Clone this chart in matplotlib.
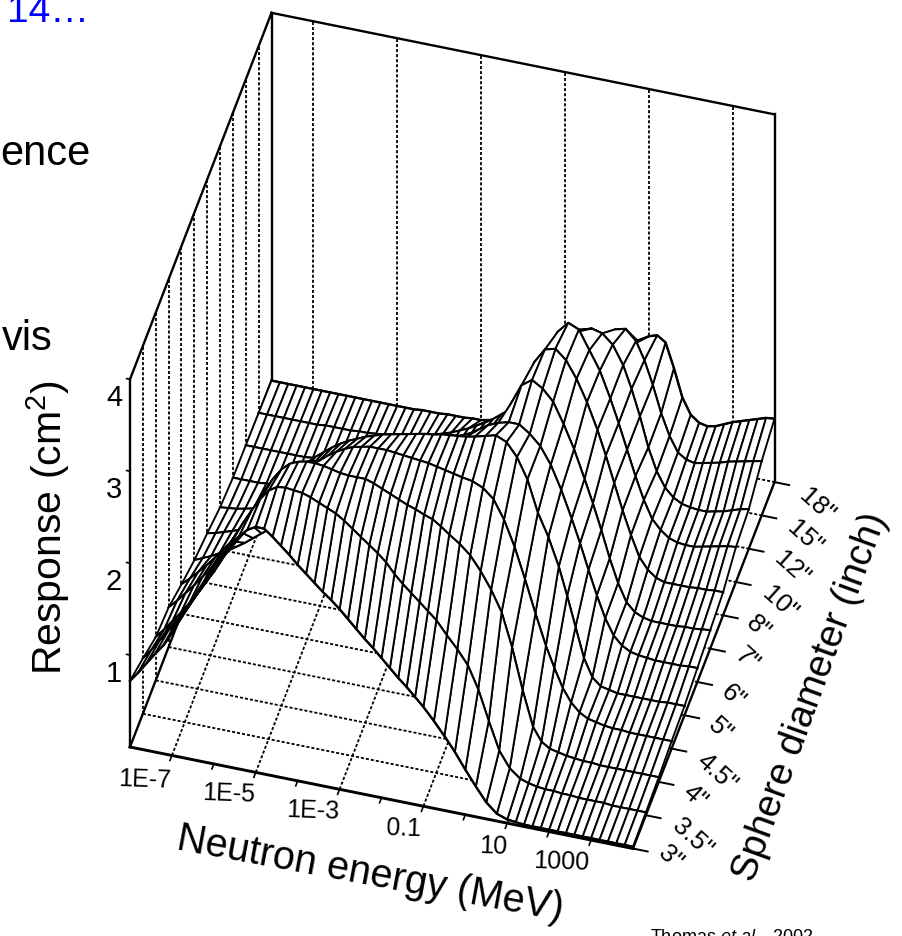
import numpy as np
import matplotlib
matplotlib.use("Agg")
import matplotlib.pyplot as plt
from mpl_toolkits.mplot3d import proj3d

plt.rcParams['font.family'] = ['Liberation Sans', 'DejaVu Sans']
plt.rcParams['mathtext.fontset'] = 'custom'
plt.rcParams['mathtext.rm'] = 'Liberation Sans'
plt.rcParams['mathtext.it'] = 'Liberation Sans:italic'
plt.rcParams['mathtext.default'] = 'regular'

# log10 of neutron energy (MeV)
log_e = [-8.0, -7.8, -7.6, -7.4, -7.2, -7.0, -6.8, -6.6, -6.4, -6.2, -6.0, -5.8,
         -5.6, -5.4, -5.2, -5.0, -4.8, -4.6, -4.4, -4.2, -4.0, -3.8, -3.6, -3.4,
         -3.2, -3.0, -2.8, -2.6, -2.4, -2.2, -2.0, -1.8, -1.6, -1.4, -1.2, -1.0,
         -0.75, -0.5, -0.25, 0.0, 0.25, 0.5, 0.75, 1.0, 1.2, 1.4, 1.6, 1.8, 2.0,
         2.2, 2.4, 2.6, 2.8, 3.0, 3.2, 3.4, 3.6, 3.8, 4.0]

sphere_labels = ['3"', '3.5"', '4"', '4.5"', '5"', '6"', '7"', '8"', '10"', '12"', '15"', '18"']

r_3 = [.72, .83, .95, 1.07, 1.18, 1.33, 1.50, 1.66, 1.83, 1.99, 2.14, 2.29, 2.43, 2.53, 2.62, 2.67, 2.67, 2.60,
       2.52, 2.44, 2.35, 2.27, 2.19, 2.11, 2.04, 1.96, 1.87, 1.78, 1.69, 1.61, 1.52, 1.43, 1.34, 1.26, 1.17, 1.08,
       .95, .81, .66, .49, .33, .18, .08, .04, .03, .02, .02, .02, .02,
       .02, .02, .02, .02, .02, .02, .02, .02, .02, .02]
r_3_5 = [.60, .71, .83, .95, 1.07, 1.20, 1.35, 1.50, 1.66, 1.82, 1.98, 2.14, 2.30, 2.45, 2.59, 2.70, 2.76, 2.77,
         2.76, 2.75, 2.72, 2.68, 2.64, 2.60, 2.54, 2.47, 2.40, 2.33, 2.26, 2.18, 2.07, 1.98, 1.90, 1.82, 1.74, 1.66,
         1.52, 1.39, 1.24, 1.00, .68, .38, .21, .12, .09, .07, .06, .06, .05,
         .05, .04, .04, .04, .04, .03, .03, .03, .03, .03]
r_4 = [.47, .57, .68, .79, .91, 1.04, 1.18, 1.32, 1.48, 1.64, 1.80, 1.97, 2.14, 2.30, 2.45, 2.57, 2.65, 2.69,
       2.71, 2.71, 2.70, 2.68, 2.66, 2.65, 2.65, 2.65, 2.62, 2.58, 2.54, 2.50, 2.46, 2.43, 2.39, 2.36, 2.30, 2.23,
       2.15, 2.05, 1.90, 1.72, 1.50, 1.14, .70, .32, .18, .12, .10, .08, .07,
       .06, .06, .05, .05, .05, .05, .05, .05, .05, .05]
r_4_5 = [.43, .52, .62, .72, .83, .94, 1.05, 1.17, 1.29, 1.41, 1.53, 1.65, 1.77, 1.89, 2.00, 2.10, 2.19, 2.28,
         2.36, 2.43, 2.49, 2.54, 2.58, 2.60, 2.62, 2.62, 2.62, 2.61, 2.60, 2.59, 2.58, 2.57, 2.55, 2.53, 2.51, 2.49,
         2.47, 2.42, 2.32, 2.12, 1.85, 1.52, 1.17, .84, .62, .42, .28, .19, .14,
         .12, .10, .09, .09, .08, .08, .08, .08, .08, .08]
r_5 = [.32, .40, .49, .58, .68, .79, .90, 1.02, 1.14, 1.26, 1.38, 1.50, 1.61, 1.72, 1.82, 1.92, 2.00, 2.07,
       2.14, 2.20, 2.25, 2.29, 2.33, 2.36, 2.39, 2.41, 2.43, 2.45, 2.47, 2.49, 2.50, 2.52, 2.53, 2.54, 2.55, 2.57,
       2.60, 2.63, 2.58, 2.44, 2.22, 1.88, 1.64, 1.34, 1.04, .72, .40, .21, .13,
       .11, .09, .09, .09, .09, .09, .09, .10, .10, .10]
r_6 = [.22, .26, .30, .35, .40, .46, .52, .59, .66, .73, .81, .89, .97, 1.05, 1.13, 1.21, 1.28, 1.35,
       1.42, 1.49, 1.56, 1.62, 1.68, 1.74, 1.80, 1.86, 1.90, 1.94, 1.98, 2.02, 2.06, 2.11, 2.16, 2.21, 2.27, 2.33,
       2.38, 2.41, 2.41, 2.33, 2.22, 2.04, 1.79, 1.50, 1.25, .98, .72, .49, .32,
       .23, .18, .16, .15, .14, .14, .14, .14, .15, .15]
r_7 = [.15, .17, .20, .23, .26, .30, .34, .38, .43, .48, .53, .58, .63, .68, .74, .80, .86, .92,
       .98, 1.04, 1.10, 1.16, 1.22, 1.28, 1.34, 1.40, 1.46, 1.52, 1.57, 1.62, 1.67, 1.72, 1.78, 1.84, 1.91, 2.00,
       2.23, 2.45, 2.53, 2.46, 2.34, 2.12, 1.87, 1.57, 1.32, 1.05, .76, .51, .32,
       .23, .19, .17, .17, .17, .17, .18, .18, .19, .20]
r_8 = [.07, .08, .09, .11, .13, .15, .17, .20, .23, .26, .29, .32, .35, .38, .42, .46, .50, .55,
       .60, .65, .70, .76, .82, .88, .94, 1.00, 1.06, 1.12, 1.18, 1.25, 1.32, 1.39, 1.47, 1.56, 1.66, 1.80,
       2.05, 2.34, 2.50, 2.53, 2.43, 2.25, 2.02, 1.74, 1.48, 1.20, .92, .67, .45,
       .33, .26, .23, .23, .23, .23, .24, .24, .25, .25]
r_10 = [.03, .03, .03, .03, .04, .04, .04, .05, .05, .06, .07, .08, .09, .10, .12, .15, .18, .21,
        .25, .30, .35, .41, .47, .53, .59, .65, .71, .78, .85, .92, 1.00, 1.08, 1.16, 1.26, 1.40, 1.58,
        1.80, 2.08, 2.33, 2.45, 2.40, 2.20, 2.00, 1.72, 1.47, 1.20, .93, .69, .50,
        .40, .33, .30, .29, .29, .31, .33, .35, .37, .38]
r_12 = [.02, .02, .02, .02, .02, .02, .02, .02, .03, .03, .03, .04, .04, .05, .06, .08, .10, .12,
        .14, .17, .20, .24, .28, .33, .39, .45, .51, .58, .65, .72, .80, .88, .96, 1.04, 1.14, 1.25,
        1.42, 1.62, 1.83, 2.00, 2.05, 2.02, 1.92, 1.72, 1.48, 1.20, .88, .64, .48,
        .39, .34, .32, .31, .31, .33, .35, .38, .41, .43]
r_15 = [.01, .01, .01, .01, .01, .01, .01, .01, .02, .02, .02, .02, .03, .03, .04, .05, .06, .07,
        .09, .11, .13, .16, .19, .22, .26, .30, .35, .40, .46, .53, .60, .67, .74, .82, .90, 1.00,
        1.13, 1.25, 1.38, 1.50, 1.62, 1.70, 1.73, 1.62, 1.43, 1.18, .89, .66, .50,
        .44, .42, .44, .46, .48, .51, .53, .55, .57, .59]
r_18 = [.00, .00, .00, .00, .00, .00, .00, .00, .00, .00, .00, .00, .00, .00, .00, .00, .00, .00,
        .01, .01, .01, .02, .02, .02, .03, .03, .05, .07, .10, .15, .20, .25, .31, .37, .43, .50,
        .60, .70, .82, .94, 1.04, 1.13, 1.23, 1.31, 1.34, 1.28, 1.02, .72, .55,
        .48, .46, .48, .52, .56, .59, .62, .65, .68, .69]

z_ticks = [1, 2, 3, 4]
e_ticks = [-7, -5, -3, -1, 1, 3]
e_tick_labels = ['1E-7', '1E-5', '1E-3', '0.1', '10', '1000']
e_minor = [-6, -4, -2, 0, 2]

W, H = 903, 936
resp = np.array([r_3, r_3_5, r_4, r_4_5, r_5, r_6, r_7, r_8, r_10, r_12, r_15, r_18])
rows = np.arange(len(sphere_labels))
X, Y = np.meshgrid(log_e, rows)
xmin, xmax = -8, 4
ymax = rows[-1]
ztop = 4

fig = plt.figure(figsize=(W / 100, H / 100), dpi=100)
ax = fig.add_axes([0, 0, 1, 1], projection='3d', proj_type='ortho', computed_zorder=False)
ax.set_xlim(xmin, xmax, view_margin=0)
ax.set_ylim(0, ymax, view_margin=0)
ax.set_zlim(0, ztop, view_margin=0)
ax.view_init(elev=46.3, azim=-74.4)
ax.set_axis_off()
ax.patch.set_alpha(0)
fig.patch.set_facecolor('white')


def to_px(x, y, z):
    xp, yp, _ = proj3d.proj_transform(x, y, z, ax.get_proj())
    return ax.transData.transform((xp, yp))


# fit the box onto the picture: front edge 503 px wide, corner at (130, 747)
aspect = (522, 526, 532)
ax.set_box_aspect(aspect, zoom=1.0)
ax.apply_aspect()
d = to_px(xmax, 0, 0) - to_px(xmin, 0, 0)
ax.set_box_aspect(aspect, zoom=503.0 / d[0])
ax.apply_aspect()
p0 = to_px(xmin, 0, 0)
ax.set_position([(130 - p0[0]) / W, ((H - 747) - p0[1]) / H, 1, 1])
ax.apply_aspect()

box = dict(color='k', lw=1.7, zorder=1)
dash = dict(color='k', lw=1.3, ls=(0, (1.7, 1.1)), zorder=0.5)

# walls
ax.plot([xmin, xmin], [0, 0], [0, ztop], **box)
ax.plot([xmin, xmin], [ymax, ymax], [0, ztop], **box)
ax.plot([xmax, xmax], [ymax, ymax], [0, ztop], **box)
ax.plot([xmin, xmin], [0, ymax], [ztop, ztop], **box)
ax.plot([xmin, xmax], [ymax, ymax], [ztop, ztop], **box)
ax.plot([xmin, xmin], [0, ymax], [0, 0], **box)
for r in rows[1:-1]:
    ax.plot([xmin, xmin], [r, r], [0, ztop], **dash)
for e in e_ticks:
    ax.plot([e, e], [ymax, ymax], [0, ztop], **dash)
    ax.plot([e, e], [0, ymax], [0, 0], **dash)
for r in rows[1:]:
    ax.plot([xmin, xmax], [r, r], [0, 0], **dash)

# surface, painted from the back row to the front row
order = 2
for i in range(len(rows) - 2, -1, -1):
    ax.plot_surface(X[i:i + 2], Y[i:i + 2], resp[i:i + 2], rstride=1, cstride=1, color='white',
                    edgecolor='k', linewidth=1.35, shade=False, antialiased=True, zorder=order)
    ax.plot(X[i], Y[i], resp[i], color='k', lw=1.7, zorder=order + 1)
    if i == len(rows) - 2:
        ax.plot(X[i + 1], Y[i + 1], resp[i + 1], color='k', lw=1.7, zorder=order + 1)
    order += 2

# front and side axes
ax.plot([xmin, xmax], [0, 0], [0, 0], color='k', lw=2.1, zorder=order)
ax.plot([xmax, xmax], [0, ymax], [0, 0], color='k', lw=1.7, zorder=order)
for e in e_ticks + e_minor:
    ax.plot([e, e], [0, -0.15], [0, 0], color='k', lw=1.2, zorder=order)
for r in rows:
    ax.plot([xmax, xmax + 0.35], [r, r], [0, 0], color='k', lw=1.4, zorder=order)
for z in z_ticks:
    ax.plot([xmin, xmin - 0.08], [0, 0], [z, z], color='k', lw=1.2, zorder=order)

# tick labels
e_label_xy = [(145, 780), (229, 794), (313, 811), (404, 829), (493, 846), (561, 862)]
for (px, py), lab in zip(e_label_xy, e_tick_labels):
    fig.text(px / W, 1 - py / H, lab, fontsize=18, rotation=-2, ha='center', va='center')
for z in z_ticks:
    ax.text(xmin - 0.38, 0, z - 0.24, str(z), fontsize=21, ha='center', va='center', zorder=order)

label_xy = [(670, 858), (692, 838), (695, 797), (717, 773), (720, 730), (733, 697),
            (747, 660), (758, 628), (780, 603), (792, 568), (805, 537), (817, 505)]
for (px, py), lab in zip(label_xy, sphere_labels):
    fig.text(px / W, 1 - py / H, lab, fontsize=18.5, rotation=-42, ha='center', va='center')

fig.text(370 / W, 1 - 874 / H, 'Neutron energy (MeV)', fontsize=28.5, rotation=-10.5, ha='center', va='center')
fig.text(811 / W, 1 - 697 / H, 'Sphere diameter (inch)', fontsize=27.5, rotation=70, ha='center', va='center')
fig.text(48 / W, 1 - 528 / H, 'Response (cm$^2$)', fontsize=29.5, rotation=90, ha='center', va='center')

fig.text(7 / W, 1 - 22 / H, '14…', fontsize=28, color='#0000ff', ha='left', va='baseline')
fig.text(0, 1 - 165 / H, 'ence', fontsize=30, ha='left', va='baseline')
fig.text(2 / W, 1 - 350 / H, 'vis', fontsize=30, ha='left', va='baseline')
fig.text(650 / W, 1 - 941 / H, 'Thomas $\\it{et\\ al.}$, 2002', fontsize=13, ha='left', va='baseline')

fig.savefig('out.png', dpi=100)
